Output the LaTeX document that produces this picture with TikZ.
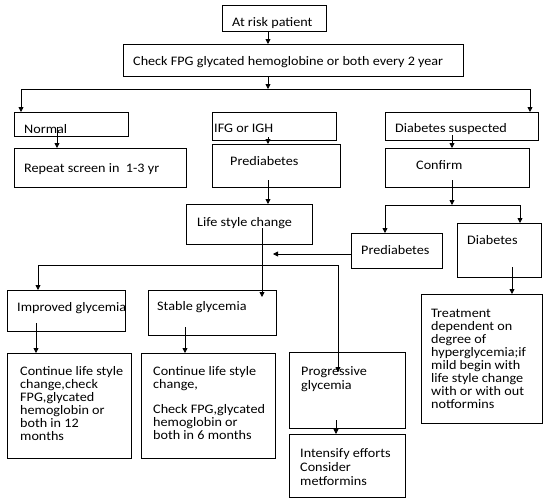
\documentclass[tikz,border=0pt]{standalone}
\usepackage{fontspec}
\setmainfont{Carlito}[FakeStretch=1.09]
\usetikzlibrary{arrows.meta}
\newcommand\mltext[2][13]{\parbox[t]{160pt}{\setlength{\baselineskip}{#1pt}\raggedright #2}}
\begin{document}
\begin{tikzpicture}[x=1pt, y=-1pt,
  box/.style={draw, line width=0.8pt, anchor=north west, inner sep=0pt, outer sep=0pt},
  txt/.style={anchor=base west, inner sep=0pt, font=\fontsize{13}{13}\selectfont},
  arr/.style={line width=0.8pt, -{Triangle[length=5pt,width=5pt]}},
  ln/.style={line width=0.8pt}]
\useasboundingbox (0,0) rectangle (550,501);
% boxes
\node[box, minimum width=104pt, minimum height=26pt] (atrisk) at (222,5) {};
\node[box, minimum width=340pt, minimum height=32pt] (check) at (123,44) {};
\node[box, minimum width=114pt, minimum height=24pt] (normal) at (14,112) {};
\node[box, minimum width=124pt, minimum height=28pt] (ifg) at (212,112) {};
\node[box, minimum width=153pt, minimum height=28pt] (dsusp) at (385,112) {};
\node[box, minimum width=172pt, minimum height=39pt] (repeat) at (14,148) {};
\node[box, minimum width=128pt, minimum height=43pt] (pre1) at (212,144) {};
\node[box, minimum width=144pt, minimum height=39pt] (confirm) at (385,148) {};
\node[box, minimum width=126pt, minimum height=40pt] (lsc) at (186,204) {};
\node[box, minimum width=91pt, minimum height=35pt] (pre2) at (351,233) {};
\node[box, minimum width=84pt, minimum height=54pt] (diab) at (457,223) {};
\node[box, minimum width=118pt, minimum height=41pt] (improved) at (7,290) {};
\node[box, minimum width=128pt, minimum height=45pt] (stable) at (148,290) {};
\node[box, minimum width=124pt, minimum height=105pt] (cont1) at (7,353) {};
\node[box, minimum width=134pt, minimum height=105pt] (cont2) at (141,353) {};
\node[box, minimum width=116pt, minimum height=76pt] (prog) at (289,352) {};
\node[box, minimum width=116pt, minimum height=63pt] (int) at (289,434) {};
\node[box, minimum width=121pt, minimum height=129pt] (treat) at (421,294) {};
% texts
\node[txt] (tatrisk) at (232,26) {At risk patient};
\node[txt] (tcheck) at (133,65) {Check FPG glycated hemoglobine or both every 2 year};
\node[txt] (tnormal) at (24,133) {Normal};
\node[txt] (tifg) at (214,132) {IFG or IGH};
\node[txt] (tdsusp) at (395,132) {Diabetes suspected};
\node[txt] (trepeat) at (24,172) {Repeat screen in \ 1-3 yr};
\node[txt] (tpre1) at (230,165) {Prediabetes};
\node[txt] (tconfirm) at (416,169) {Confirm};
\node[txt] (tlsc) at (197,226) {Life style change};
\node[txt] (tpre2) at (361,254) {Prediabetes};
\node[txt] (tdiab) at (467,244) {Diabetes};
\node[txt] (timproved) at (17,311) {Improved glycemia};
\node[txt] (tstable) at (157,310) {Stable glycemia};
\node[txt] (tcont1) at (20,375) {\mltext{Continue life style\\change,check\\FPG,glycated\\hemoglobin or\\both in 12\\months}};
\node[txt] (tcont2) at (153,375) {\mltext{Continue life style\\change,\\[12pt]Check FPG,glycated\\hemoglobin or\\both in 6 months}};
\node[txt] (tprog) at (301,375) {\mltext[14]{Progressive\\glycemia}};
\node[txt] (tint) at (300,457) {\mltext[14]{Intensify efforts\\Consider\\metformins}};
\node[txt] (ttreat) at (431,317) {\mltext{Treatment\\dependent on\\degree of\\hyperglycemia;if\\mild begin with\\life style change\\with or with out\\notformins}};
% connectors
\coordinate (spL) at (21,89);
\coordinate (spM) at (268,89);
\coordinate (spR) at (530,89);
\coordinate (sp2) at (452,205);
\coordinate (lscin) at (273,254);
\coordinate (brR) at (338,265);
\draw[arr] ([xshift=-6pt]atrisk.south) -- ([xshift=-25pt]check.north);
\draw[arr] ([xshift=-25pt]check.south) -- (spM);
\draw[ln] (spL) -- (spR);
\draw[arr] (spL) -- ([xshift=7pt]normal.north west);
\draw[arr] (spR) -- ([xshift=-8pt]dsusp.north east);
\draw[arr] ([xshift=-14pt,yshift=9pt]normal.south) -- ([xshift=-43pt]repeat.north);
\draw[arr] ([xshift=-6pt,yshift=3pt]ifg.south) -- ([xshift=-8pt]pre1.north);
\draw[arr] ([xshift=-9.5pt,yshift=5pt]dsusp.south) -- ([xshift=-5pt]confirm.north);
\draw[arr] ([xshift=-8pt,yshift=7pt]pre1.south) -- ([xshift=19pt]lsc.north);
\draw[arr] ([xshift=-5pt,yshift=7pt]confirm.south) -- (sp2);
\draw[arr] (sp2) -| ([xshift=-11.5pt]pre2.north);
\draw[arr] (sp2) -| ([xshift=21pt]diab.north);
\draw[arr] ([yshift=-3.5pt]pre2.west) -- (lscin);
\draw[arr] ([xshift=13pt,yshift=16pt]lsc.south) -- ([xshift=50pt,yshift=-7pt]stable.north);
\draw[arr] (brR) -| ([xshift=-28pt]improved.north);
\draw[arr] (brR) -- ([xshift=-9pt,yshift=-20pt]prog.north);
\draw[arr] ([xshift=-30pt,yshift=8pt]improved.south) -- ([xshift=-33pt]cont1.north);
\draw[arr] ([xshift=-27pt,yshift=8pt]stable.south) -- ([xshift=-23pt]cont2.north);
\draw[arr] ([xshift=-11pt,yshift=8pt]prog.south) -- ([xshift=-11pt]int.north);
\draw[arr] ([xshift=13pt,yshift=10pt]diab.south) -- ([xshift=30.5pt]treat.north);
\end{tikzpicture}
\end{document}
